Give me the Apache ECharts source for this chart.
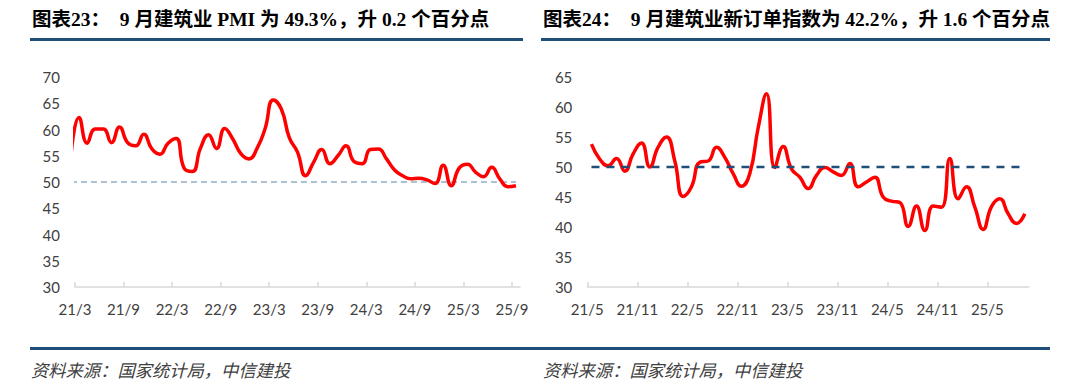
<!DOCTYPE html>
<html>
<head>
<meta charset="utf-8">
<script src="https://cdn.jsdelivr.net/npm/echarts@6/dist/echarts.min.js"></script>
<style>
  html, body { margin: 0; padding: 0; background: #fff; }
  #chart { width: 1080px; height: 388px; }
</style>
</head>
<body>
<div id="chart"></div>
<script>
// ---------- DATA ----------
const leftTitle = '图表23：  9 月建筑业 PMI 为 49.3%，升 0.2 个百分点';
const rightTitle = '图表24：  9 月建筑业新订单指数为 42.2%，升 1.6 个百分点';
const sourceText = '资料来源：国家统计局，中信建投';

// 建筑业 PMI (first month 21/2 is only partly visible at the left edge)
const pmiMonths = [
  '21/2','21/3','21/4','21/5','21/6','21/7','21/8','21/9','21/10','21/11','21/12',
  '22/1','22/2','22/3','22/4','22/5','22/6','22/7','22/8','22/9','22/10','22/11','22/12',
  '23/1','23/2','23/3','23/4','23/5','23/6','23/7','23/8','23/9','23/10','23/11','23/12',
  '24/1','24/2','24/3','24/4','24/5','24/6','24/7','24/8','24/9','24/10','24/11','24/12',
  '25/1','25/2','25/3','25/4','25/5','25/6','25/7','25/8','25/9'
];
const pmiValues = [
  55.0, 62.3, 57.4, 60.1, 60.1, 57.5, 60.5, 57.5, 56.9, 59.1, 56.3,
  55.3, 57.4, 58.3, 52.6, 52.0, 56.4, 59.0, 56.4, 60.2, 58.2, 55.4, 54.4,
  56.4, 60.2, 65.6, 63.9, 58.4, 55.7, 51.2, 53.8, 56.2, 53.5, 55.0, 56.9,
  53.9, 53.5, 56.2, 56.3, 54.4, 52.3, 51.2, 50.6, 50.7, 50.4, 49.7, 53.2,
  49.3, 52.7, 53.4, 51.9, 51.0, 52.8, 50.6, 49.1, 49.3
];
const pmiFirstLabelIndex = 1;          // '21/3'
const pmiAxisTicks = ['21/3','21/9','22/3','22/9','23/3','23/9','24/3','24/9','25/3','25/9'];

// 建筑业新订单指数
const orderMonths = [
  '21/5','21/6','21/7','21/8','21/9','21/10','21/11','21/12',
  '22/1','22/2','22/3','22/4','22/5','22/6','22/7','22/8','22/9','22/10','22/11','22/12',
  '23/1','23/2','23/3','23/4','23/5','23/6','23/7','23/8','23/9','23/10','23/11','23/12',
  '24/1','24/2','24/3','24/4','24/5','24/6','24/7','24/8','24/9','24/10','24/11','24/12',
  '25/1','25/2','25/3','25/4','25/5','25/6','25/7','25/8','25/9'
];
const orderValues = [
  53.8, 51.3, 50.2, 51.4, 49.3, 52.2, 54.0, 50.0,
  53.3, 55.0, 51.0, 45.1, 46.7, 50.8, 51.0, 53.3, 51.6, 48.9, 46.8, 48.9,
  56.5, 62.2, 49.9, 53.4, 49.7, 48.3, 46.4, 48.6, 49.9, 49.2, 48.6, 50.6,
  46.7, 47.5, 48.3, 45.0, 44.3, 44.1, 40.1, 43.5, 39.4, 43.5, 43.3, 51.4,
  44.7, 46.7, 43.3, 39.6, 43.4, 44.7, 42.2, 40.6, 42.2
];
const orderFirstLabelIndex = 0;        // '21/5'
const orderAxisTicks = ['21/5','21/11','22/5','22/11','23/5','23/11','24/5','24/11','25/5'];

const boomBust = 50;                   // 荣枯线
const pmiYTicks = [30, 35, 40, 45, 50, 55, 60, 65, 70];
const orderYTicks = [30, 35, 40, 45, 50, 55, 60, 65];

// ---------- helpers ----------
// month k sits in the middle of its month slot; slot boundaries carry the tick labels
function toPoints(months, values, firstIdx) {
  return months.map((m, k) => [k - firstIdx + 0.5, values[k]]);
}
function tickPositions(months, ticks, firstIdx) {
  return ticks.map(t => months.indexOf(t) - firstIdx);
}
function tickLabelMap(months, ticks, firstIdx) {
  const map = {};
  ticks.forEach(t => { map[months.indexOf(t) - firstIdx] = t; });
  return map;
}

const pmiTickPos = tickPositions(pmiMonths, pmiAxisTicks, pmiFirstLabelIndex);
const pmiLabelMap = tickLabelMap(pmiMonths, pmiAxisTicks, pmiFirstLabelIndex);
const orderTickPos = tickPositions(orderMonths, orderAxisTicks, orderFirstLabelIndex);
const orderLabelMap = tickLabelMap(orderMonths, orderAxisTicks, orderFirstLabelIndex);

const labelFont = 'Lato, "Noto Sans", sans-serif';
const labelColor = '#404040';
const axisGray = '#d9d9d9';

function xAxisOf(gridIndex, nMonths, tickPos, labelMap) {
  return {
    type: 'value', gridIndex: gridIndex,
    min: 0, max: nMonths, interval: 6,
    splitLine: { show: false },
    axisLine: { show: true, lineStyle: { color: axisGray, width: 1.5 } },
    axisTick: { show: true, inside: true, length: 5, customValues: tickPos,
                lineStyle: { color: axisGray, width: 1.5 } },
    axisLabel: { customValues: tickPos, margin: 14, fontSize: 15, color: labelColor,
                 fontFamily: labelFont,
                 formatter: v => labelMap[Math.round(v)] || '' }
  };
}
function yAxisOf(gridIndex, ticks) {
  return {
    type: 'value', gridIndex: gridIndex,
    min: ticks[0], max: ticks[ticks.length - 1], interval: ticks[1] - ticks[0],
    splitLine: { show: false }, axisLine: { show: false }, axisTick: { show: false },
    axisLabel: { margin: 15, fontSize: 15, color: labelColor, fontFamily: labelFont }
  };
}

const titleFont = '"Liberation Serif", "Noto Sans CJK SC", serif';
const ruleColor = '#1f4e79';

const option = {
  animation: false,
  backgroundColor: '#ffffff',
  grid: [
    { left: 75, top: 77, width: 445, height: 210 },
    { left: 587.3, top: 77, width: 441.7, height: 210 }
  ],
  xAxis: [
    xAxisOf(0, pmiMonths.length - pmiFirstLabelIndex, pmiTickPos, pmiLabelMap),
    xAxisOf(1, orderMonths.length - orderFirstLabelIndex, orderTickPos, orderLabelMap)
  ],
  yAxis: [ yAxisOf(0, pmiYTicks), yAxisOf(1, orderYTicks) ],
  series: [
    {
      name: '建筑业PMI', type: 'line', xAxisIndex: 0, yAxisIndex: 0,
      data: toPoints(pmiMonths, pmiValues, pmiFirstLabelIndex),
      smooth: 0.5, showSymbol: false, clip: true,
      lineStyle: { color: '#ff0000', width: 3.5 }, z: 3
    },
    {
      name: '荣枯线', type: 'line', xAxisIndex: 0, yAxisIndex: 0,
      data: toPoints(pmiMonths, pmiMonths.map(() => boomBust), pmiFirstLabelIndex),
      showSymbol: false, clip: true, silent: true,
      lineStyle: { color: '#8eaec6', width: 1.5, type: [6, 4] }, z: 2
    },
    {
      name: '建筑业新订单指数', type: 'line', xAxisIndex: 1, yAxisIndex: 1,
      data: toPoints(orderMonths, orderValues, orderFirstLabelIndex),
      smooth: 0.5, showSymbol: false, clip: true,
      lineStyle: { color: '#ff0000', width: 3.5 }, z: 3
    },
    {
      name: '荣枯线', type: 'line', xAxisIndex: 1, yAxisIndex: 1,
      data: toPoints(orderMonths, orderMonths.map(() => boomBust), orderFirstLabelIndex),
      showSymbol: false, clip: true, silent: true,
      lineStyle: { color: '#1f4e79', width: 2.5, type: [8, 7] }, z: 4
    }
  ],
  graphic: [
    { type: 'text', left: 32, top: 10,
      style: { text: leftTitle, font: 'bold 19.5px ' + titleFont, fill: '#000' } },
    { type: 'text', left: 543, top: 10,
      style: { text: rightTitle, font: 'bold 19.5px ' + titleFont, fill: '#000' } },
    { type: 'rect', shape: { x: 30, y: 38, width: 493, height: 3 }, style: { fill: ruleColor } },
    { type: 'rect', shape: { x: 541, y: 38, width: 509, height: 3 }, style: { fill: ruleColor } },
    { type: 'rect', shape: { x: 30, y: 347, width: 1020, height: 3 }, style: { fill: ruleColor } },
    { type: 'text', left: 31, top: 361,
      style: { text: sourceText, font: 'italic 17.3px "Noto Sans CJK SC", sans-serif', fill: '#404040' } },
    { type: 'text', left: 543, top: 361,
      style: { text: sourceText, font: 'italic 17.3px "Noto Sans CJK SC", sans-serif', fill: '#404040' } }
  ]
};

const chart = echarts.init(document.getElementById('chart'), null, { renderer: 'svg' });
chart.setOption(option);
</script>
</body>
</html>
